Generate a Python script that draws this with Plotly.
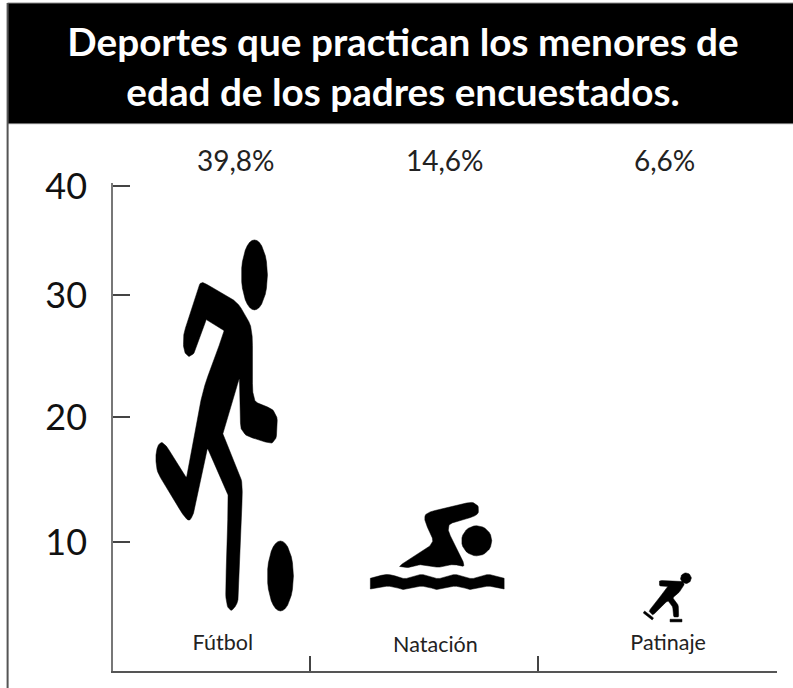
import math
import plotly.graph_objects as go

# Survey results
categories = ["Fútbol", "Natación", "Patinaje"]
values = [39.8, 14.6, 6.6]
y_tick_labels = ["10", "20", "30", "40"]

# Hand-spaced axis ticks and column edges (column edges are in pixels of plot width)
y_tick_positions = [10.64, 20.93, 31.02, 40]
column_edges = [0, 196.6, 425.3, 664]

# Canvas and plot frame
W, H = 793, 688
LEFT, RIGHT, TOP, BOTTOM = 113.4, 777.4, 183.3, 671.0
Y_MAX = 40.25
PX_PER_UNIT = (BOTTOM - TOP) / Y_MAX

# Icon placement: height per unit of value, base height, horizontal shift from column centre
icon_scale = [0.769, 0.492, 0.612]
icon_base = [4.95, 6.72, 4.05]
icon_shift = [13.3, 13.3, 9.6]
label_shift = [11.5, 11.5, 10.5]
value_label_shift = [25, 21.5, 7]
label_heights = [2.16, 2.05, 2.15]
VALUE_LABEL_PX_Y = 160


def ellipse(cx, cy, rx, ry):
    # Outline as a 32-gon
    return [(cx + rx * math.cos(i * math.pi / 16), cy + ry * math.sin(i * math.pi / 16)) for i in range(32)]


def soften(points, cut=0.18, rounds=2):
    # Chaikin corner cutting for closed outlines; a doubled point stays a sharp corner
    for _ in range(rounds):
        out = []
        n = len(points)
        for i in range(n):
            (x0, y0), (x1, y1) = points[i], points[(i + 1) % n]
            if (x0, y0) == (x1, y1):
                out.append((x0, y0))
                continue
            out.append((x0 + (x1 - x0) * cut, y0 + (y1 - y0) * cut))
            out.append((x1 - (x1 - x0) * cut, y1 - (y1 - y0) * cut))
        points = out
    return points


# Pictograms, each a list of outlines on its own design grid (y grows downwards)
footballer = [
    soften([(203, 281), (238, 301), (253, 327), (253, 400), (273, 408), (278, 417), (277, 437), (272, 443),
            (247, 435), (241, 428), (240, 377), (240, 377), (223, 432), (223, 432), (242, 478), (243, 490),
            (239, 597), (237, 604), (232, 610), (228, 606), (226, 594), (229, 495), (229, 495), (208, 447), (208, 447),
            (195, 510), (191, 519), (188, 519), (183, 513), (158, 472), (156, 457), (158, 445),
            (162, 441), (167, 445), (187, 477), (187, 477), (203, 390), (225, 330), (225, 330), (207, 318), (207, 318),
            (195, 352), (190, 356), (186, 353), (184, 347), (184, 333), (200, 283)], cut=0.14, rounds=2),
    ellipse(255, 274, 13, 35),
    ellipse(281, 575, 13, 35),
]

swimmer = [
    soften([(335, 35), (355, 48), (355, 70), (340, 80), (255, 105), (318, 230), (280, 222), (235, 232),
            (185, 222), (150, 232), (112, 230), (225, 160), (195, 95), (195, 75), (210, 65)], cut=0.15, rounds=2),
    ellipse(350, 152, 45, 45),
    soften([(32, 264), (32, 264), (60, 256), (85, 252), (110, 258), (135, 266), (160, 258), (185, 252), (210, 258),
            (235, 266), (260, 258), (285, 252), (310, 258), (335, 266), (360, 258), (385, 252), (410, 258),
            (432, 264), (432, 264), (432, 296), (432, 296), (410, 291), (385, 287), (360, 292), (335, 299), (310, 292),
            (285, 287), (260, 292), (235, 299), (210, 292), (185, 287), (160, 292), (135, 299), (110, 292),
            (85, 287), (60, 291), (32, 296), (32, 296)], cut=0.2, rounds=1),
]

skater = [
    soften([(120, 60), (190, 62), (195, 72), (180, 95), (160, 112), (177, 135), (178, 170), (163, 170),
            (160, 140), (145, 120), (100, 165), (88, 152), (125, 105), (148, 78), (120, 76)], cut=0.1, rounds=1),
    ellipse(200, 53, 16, 16),
    [(152, 177), (188, 177), (188, 185), (152, 185)],
    [(75, 152), (102, 173), (98, 179), (71, 158)],
]

icons = [footballer, swimmer, skater]

centres = [(column_edges[i] + column_edges[i + 1]) / 2 for i in range(len(categories))]

fig = go.Figure()


def add_icon(outlines, value, scale, base, cx):
    # Icon height follows the value; width keeps the outline's proportions on screen
    ys_all = [p[1] for o in outlines for p in o]
    xs_all = [p[0] for o in outlines for p in o]
    y_top, y_bot = min(ys_all), max(ys_all)
    x_mid = (min(xs_all) + max(xs_all)) / 2
    height_units = value * scale
    units_per_grid = height_units / (y_bot - y_top)
    px_per_grid = units_per_grid * PX_PER_UNIT
    for outline in outlines:
        xs = [cx + (x - x_mid) * px_per_grid for x, _ in outline]
        ys = [base + (y_bot - y) * units_per_grid for _, y in outline]
        fig.add_trace(go.Scatter(
            x=xs + xs[:1], y=ys + ys[:1], mode="lines", fill="toself",
            fillcolor="black", line=dict(color="black", width=0.5),
            hoverinfo="skip", showlegend=False,
        ))


for i, outlines in enumerate(icons):
    add_icon(outlines, values[i], icon_scale[i], icon_base[i], centres[i] + icon_shift[i])

# Category names inside the plot, just above the baseline
fig.add_trace(go.Scatter(
    x=[c + s for c, s in zip(centres, label_shift)], y=label_heights,
    mode="text", text=categories, textposition="middle center",
    textfont=dict(family="Lato", size=21.5, color="#222222"),
    cliponaxis=False, showlegend=False, hoverinfo="skip",
))


def px_x(x):
    return (x - LEFT) / (RIGHT - LEFT)


def px_y(y):
    return (BOTTOM - y) / (BOTTOM - TOP)


# Percentages above the plot
value_annotations = [
    dict(x=c + s, y=px_y(VALUE_LABEL_PX_Y), xref="x", yref="paper", showarrow=False,
         text=f"{v:.1f}".replace(".", ",") + "%", xanchor="center", yanchor="middle",
         font=dict(family="Lato", size=28, color="#222222"))
    for c, s, v in zip(centres, value_label_shift, values)
]

frame_shapes = [
    # Title band
    dict(type="rect", xref="paper", yref="paper", x0=px_x(8), x1=px_x(W + 5), y0=px_y(124), y1=px_y(3.5),
         fillcolor="black", line=dict(color="#777777", width=1), layer="below"),
    # Left rule of the frame
    dict(type="line", xref="paper", yref="paper", x0=px_x(8), x1=px_x(8), y0=px_y(H + 5), y1=px_y(3.5),
         line=dict(color="#555555", width=2), layer="below"),
]

fig.update_layout(
    width=W, height=H,
    autosize=False,
    margin=dict(l=LEFT, r=W - RIGHT, t=TOP, b=H - BOTTOM, pad=0),
    paper_bgcolor="white", plot_bgcolor="white",
    showlegend=False,
    shapes=frame_shapes,
    annotations=value_annotations,
    title=dict(
        text="Deportes que practican los menores de<br>edad de los padres encuestados.",
        x=403 / W, xanchor="center", xref="container",
        y=1 - 56 / H, yanchor="middle", yref="container",
        font=dict(family="Lato", size=38.7, color="white", weight="bold"),
    ),
    xaxis=dict(
        range=[0, column_edges[-1]], tickmode="array", tickvals=column_edges[1:], ticktext=["", "", ""],
        ticks="inside", ticklen=15, tickwidth=1.5, tickcolor="#444444",
        showline=True, linecolor="#555555", linewidth=1.5,
        showgrid=False, zeroline=False, fixedrange=True,
    ),
    yaxis=dict(
        range=[0, Y_MAX], tickmode="array", tickvals=y_tick_positions, ticktext=y_tick_labels,
        ticks="inside", ticklen=17, tickwidth=1.5, tickcolor="#444444",
        ticklabelstandoff=17,
        tickfont=dict(family="Lato", size=36, color="#111111"),
        showline=True, linecolor="#777777", linewidth=1.5,
        showgrid=False, zeroline=False, fixedrange=True,
    ),
)

fig.write_html("out.html", config=dict(displayModeBar=False))
